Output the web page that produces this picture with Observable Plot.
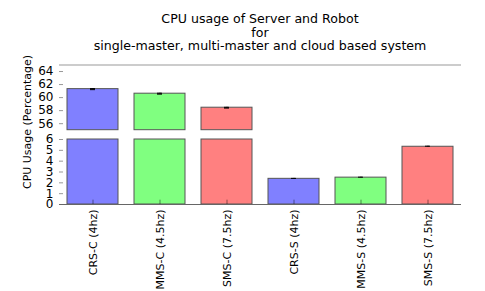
<!DOCTYPE html>
<html><head><meta charset="utf-8">
<script src="https://cdn.jsdelivr.net/npm/d3@7"></script>
<script src="https://cdn.jsdelivr.net/npm/@observablehq/plot@0.6"></script>
<style>
body{margin:0;background:#fff;font-family:"DejaVu Sans",sans-serif;}
#wrap{position:relative;width:485px;height:291px;overflow:hidden;}
#title{position:absolute;left:59px;width:402px;top:12px;text-align:center;font-size:12.6px;line-height:13.5px;color:#000;}
#ylab{position:absolute;left:27px;top:122px;font-size:11px;white-space:nowrap;transform:translate(-50%,-50%) rotate(-90deg);}
.p{position:absolute;left:0;overflow:visible;}
</style></head>
<body><div id="wrap">
<div id="title">CPU usage of Server and Robot<br>for<br>single-master, multi-master and cloud based system</div>
<div id="ylab">CPU Usage (Percentage)</div>
</div>
<script>
const categories = ["CRS-C (4hz)","MMS-C (4.5hz)","SMS-C (7.5hz)","CRS-S (4hz)","MMS-S (4.5hz)","SMS-S (7.5hz)"];
const values = [61.3, 60.6, 58.45, 2.37, 2.48, 5.33];
const errors = [0.08, 0.07, 0.06, 0.04, 0.04, 0.05];
const colors = ["#8080ff","#80ff80","#ff8080","#8080ff","#80ff80","#ff8080"];
const topTicks = [56, 58, 60, 62, 64];
const bottomTicks = [0, 1, 2, 3, 4, 5, 6];
const topDomain = [55, 65];
const bottomDomain = [0, 6];

const data = categories.map((c, i) => ({cat: c, value: values[i], err: errors[i], color: colors[i]}));
const wrap = document.getElementById("wrap");
const common = {
  width: 485, marginLeft: 59, marginRight: 24,
  style: {fontFamily: "DejaVu Sans, sans-serif", fontSize: "12px", color: "#000", background: "transparent", overflow: "visible"},
  x: {domain: categories, padding: 0, axis: null},
  color: {type: "identity"}
};

// top panel (broken axis upper part)
const topData = data.filter(d => d.value > topDomain[0]);
const topPlot = Plot.plot({
  ...common,
  height: 72, marginTop: 4.5, marginBottom: 2.3,
  y: {domain: topDomain, ticks: topTicks, tickFormat: "d", tickSize: 0, tickPadding: 6, label: null},
  marks: [
    Plot.ruleY([topDomain[1]], {stroke: "#999", strokeWidth: 1.2}),
    Plot.tickY(topTicks, {y: d => d, x: null, stroke: "#999", strokeWidth: 1, insetRight: 398}),
    Plot.barY(topData, {x: "cat", y1: topDomain[0], y2: "value", fill: "color", stroke: "#555", strokeWidth: 1, insetLeft: 8, insetRight: 8}),
    Plot.ruleX(topData, {x: "cat", y1: d => d.value - d.err, y2: d => d.value + d.err, stroke: "#000", strokeWidth: 1}),
    Plot.tickY(topData, {x: "cat", y: d => d.value + d.err, stroke: "#000", insetLeft: 31, insetRight: 31}),
    Plot.tickY(topData, {x: "cat", y: d => d.value - d.err, stroke: "#000", insetLeft: 31, insetRight: 31})
  ]
});
topPlot.classList.add("p");
topPlot.style.top = "60px";
wrap.appendChild(topPlot);

// bottom panel (broken axis lower part)
const botPlot = Plot.plot({
  ...common,
  height: 157, marginTop: 5, marginBottom: 87,
  y: {domain: bottomDomain, ticks: bottomTicks, tickFormat: "d", tickSize: 0, tickPadding: 6, label: null},
  marks: [
    Plot.tickY(bottomTicks, {y: d => d, x: null, stroke: "#999", strokeWidth: 1, insetRight: 398}),
    Plot.barY(data, {x: "cat", y1: 0, y2: d => Math.min(d.value, bottomDomain[1]), fill: "color", stroke: "#555", strokeWidth: 1, insetLeft: 8, insetRight: 8}),
    Plot.ruleY(data.filter(d => d.value > bottomDomain[1]), {x1: null, y: bottomDomain[1], stroke: "#aaa", strokeWidth: 1.5}),
    Plot.ruleX(data.filter(d => d.value <= bottomDomain[1]), {x: "cat", y1: d => d.value - d.err, y2: d => d.value + d.err, stroke: "#000", strokeWidth: 1}),
    Plot.tickY(data.filter(d => d.value <= bottomDomain[1]), {x: "cat", y: d => d.value + d.err, stroke: "#000", insetLeft: 31, insetRight: 31}),
    Plot.ruleX(data, {x: "cat", y1: 0, y2: 0.4, stroke: "#000", strokeOpacity: 0.45, strokeWidth: 1}),
    Plot.ruleY([0], {stroke: "#666", strokeWidth: 1.2}),
    Plot.text(categories, {x: d => d, y: 0, text: d => d, rotate: -90, textAnchor: "end", dy: 5, fontSize: 11, fill: "#000"})
  ]
});
botPlot.classList.add("p");
botPlot.style.top = "134px";
wrap.appendChild(botPlot);
</script>
</body></html>
